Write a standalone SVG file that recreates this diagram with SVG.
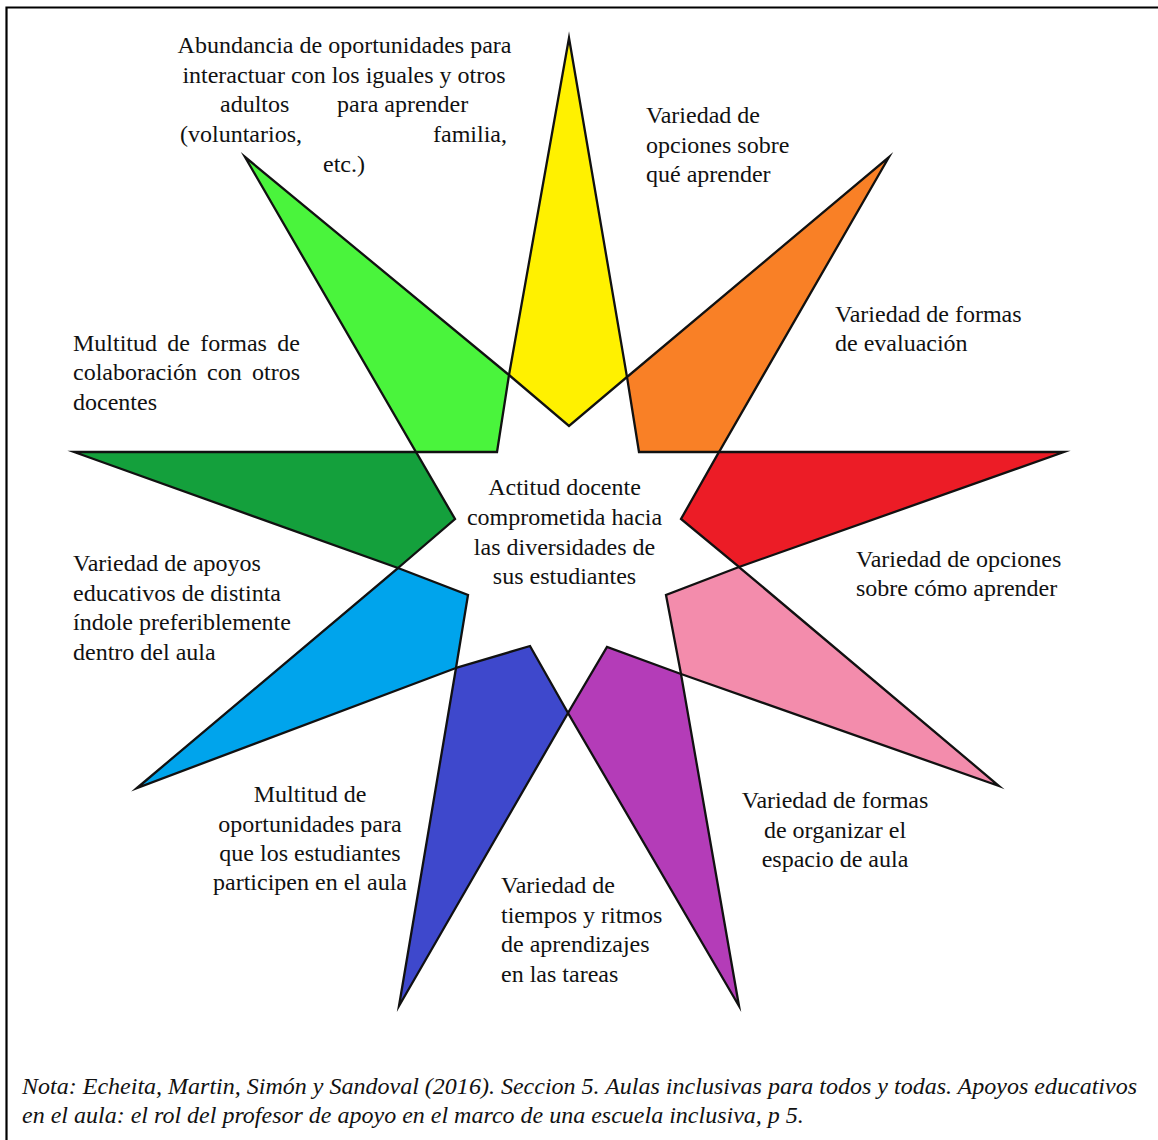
<svg xmlns="http://www.w3.org/2000/svg" width="1158" height="1140" viewBox="0 0 1158 1140">
<style>
text{font-family:"Liberation Serif","Times New Roman",serif;font-size:24px;fill:#111}
.m{text-anchor:middle}
.e{text-anchor:end}
.it{font-style:italic}
.pt{stroke:#111;stroke-width:2.3;stroke-linejoin:miter;stroke-miterlimit:12}
</style>
<rect width="1158" height="1140" fill="#fff"/>
<path d="M6.5,1140 V7.5 H1158" fill="none" stroke="#000" stroke-width="2.2"/>
<g id="star">
<g id="p-yellow"><polygon class="pt" fill="#FFF100" points="569,38 627,377 569,426 509,375"/></g>
<g id="p-orange"><polygon class="pt" fill="#F98026" points="889,157 719,452 639,452 627,377"/></g>
<g id="p-red"><polygon class="pt" fill="#EC1C26" points="1064,452 739,567 681,519 719,452"/></g>
<g id="p-pink"><polygon class="pt" fill="#F38CAC" points="999,786 681,674 666,595 739,567"/></g>
<g id="p-purple"><polygon class="pt" fill="#B43CB8" points="739,1006 568,713 607,647 681,674"/></g>
<g id="p-blue"><polygon class="pt" fill="#3E48CC" points="399,1006 456,668 530,646 568,713"/></g>
<g id="p-lightblue"><polygon class="pt" fill="#00A4EC" points="137,788 398,568 468,595 456,668"/></g>
<g id="p-darkgreen"><polygon class="pt" fill="#14A03C" points="74,452 416,452 455,519 398,568"/></g>
<g id="p-green"><polygon class="pt" fill="#4AF43C" points="245,157 509,375 497,452 416,452"/></g>
</g>
<g id="connectors"></g>
<g id="n-interactuar">
<text class="m" x="344.5" y="53">Abundancia de oportunidades para</text>
<text class="m" x="344" y="83">interactuar con los iguales y otros</text>
<text x="220" y="112">adultos</text><text x="337" y="112">para aprender</text>
<text x="180" y="142">(voluntarios,</text><text class="e" x="507" y="142">familia,</text>
<text class="m" x="344" y="172">etc.)</text>
</g>
<g id="n-que">
<text x="646" y="123">Variedad de</text>
<text x="646" y="153">opciones sobre</text>
<text x="646" y="182">qué aprender</text>
</g>
<g id="n-evaluacion">
<text x="835" y="322">Variedad de formas</text>
<text x="835" y="351">de evaluación</text>
</g>
<g id="n-colaboracion">
<text y="351"><tspan x="73">Multitud</tspan><tspan x="167.3">de</tspan><tspan x="200.3">formas</tspan><tspan x="277.3">de</tspan></text>
<text y="380"><tspan x="73">colaboración</tspan><tspan x="207.1">con</tspan><tspan x="252">otros</tspan></text>
<text x="73" y="410">docentes</text>
</g>
<g id="n-centro">
<text class="m" x="564.5" y="495">Actitud docente</text>
<text class="m" x="564.5" y="525">comprometida hacia</text>
<text class="m" x="564.5" y="555">las diversidades de</text>
<text class="m" x="564.5" y="584">sus estudiantes</text>
</g>
<g id="n-como">
<text x="856" y="567">Variedad de opciones</text>
<text x="856" y="596">sobre cómo aprender</text>
</g>
<g id="n-apoyos">
<text x="73" y="571">Variedad de apoyos</text>
<text x="73" y="601">educativos de distinta</text>
<text x="73" y="630">índole preferiblemente</text>
<text x="73" y="660">dentro del aula</text>
</g>
<g id="n-participen">
<text class="m" x="310" y="802">Multitud de</text>
<text class="m" x="310" y="832">oportunidades para</text>
<text class="m" x="310" y="861">que los estudiantes</text>
<text class="m" x="310" y="890">participen en el aula</text>
</g>
<g id="n-espacio">
<text class="m" x="835" y="808">Variedad de formas</text>
<text class="m" x="835" y="838">de organizar el</text>
<text class="m" x="835" y="867">espacio de aula</text>
</g>
<g id="n-tiempos">
<text x="501" y="893">Variedad de</text>
<text x="501" y="923">tiempos y ritmos</text>
<text x="501" y="952">de aprendizajes</text>
<text x="501" y="982">en las tareas</text>
</g>
<g id="nota">
<text class="it" x="22" y="1094" textLength="1115" lengthAdjust="spacing">Nota: Echeita, Martin, Simón y Sandoval (2016). Seccion 5. Aulas inclusivas para todos y todas. Apoyos educativos</text>
<text class="it" x="22" y="1123">en el aula: el rol del profesor de apoyo en el marco de una escuela inclusiva, p 5.</text>
</g>
</svg>
